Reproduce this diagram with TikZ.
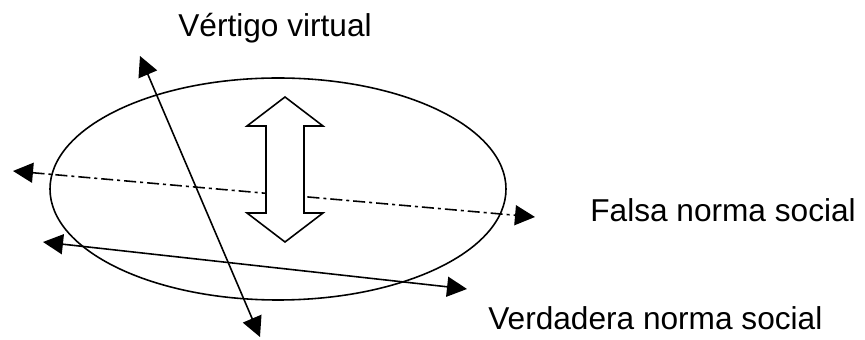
\documentclass[tikz,border=0pt]{standalone}
\usepackage{fontspec}
\setmainfont{Liberation Sans}
\usetikzlibrary{arrows.meta}
\begin{document}
\begin{tikzpicture}[x=0.02cm,y=-0.02cm,
  tip/.tip={Triangle[length=0.4cm,width=0.4cm]},
  ln/.style={line width=0.9pt,tip-tip},
  lbl/.style={font=\fontsize{18}{22}\selectfont,inner sep=0pt}]
\useasboundingbox (0,0) rectangle (865,340);
% the ellipse
\draw[line width=0.9pt] (278,189) ellipse [x radius=228, y radius=111];
% endpoints of the three axes
\coordinate (dl) at (13,171);
\coordinate (dr) at (535,217);
\coordinate (vt) at (140,56);
\coordinate (vb) at (260,337);
\coordinate (sl) at (43,242);
\coordinate (sr) at (467,289);
% dash-dotted axis
\draw[ln,dash pattern=on 0.24cm off 0.08cm on 0.06cm off 0.08cm] (dl) -- (dr);
% solid axes
\draw[ln] (vt) -- (vb);
\draw[ln] (sl) -- (sr);
% hollow double arrow
\draw[line width=0.9pt,fill=white] (285,97) -- (323,126) -- (304,126) -- (304,213) -- (323,213)
  -- (285,242) -- (247,213) -- (266,213) -- (266,126) -- (247,126) -- cycle;
% labels
\node[lbl,anchor=base west] (vv) at (178,37) {Vértigo virtual};
\node[lbl,anchor=base west] (fn) at (590,222) {Falsa norma social};
\node[lbl,anchor=base west] (vn) at (488,330) {Verdadera norma social};
\end{tikzpicture}
\end{document}
